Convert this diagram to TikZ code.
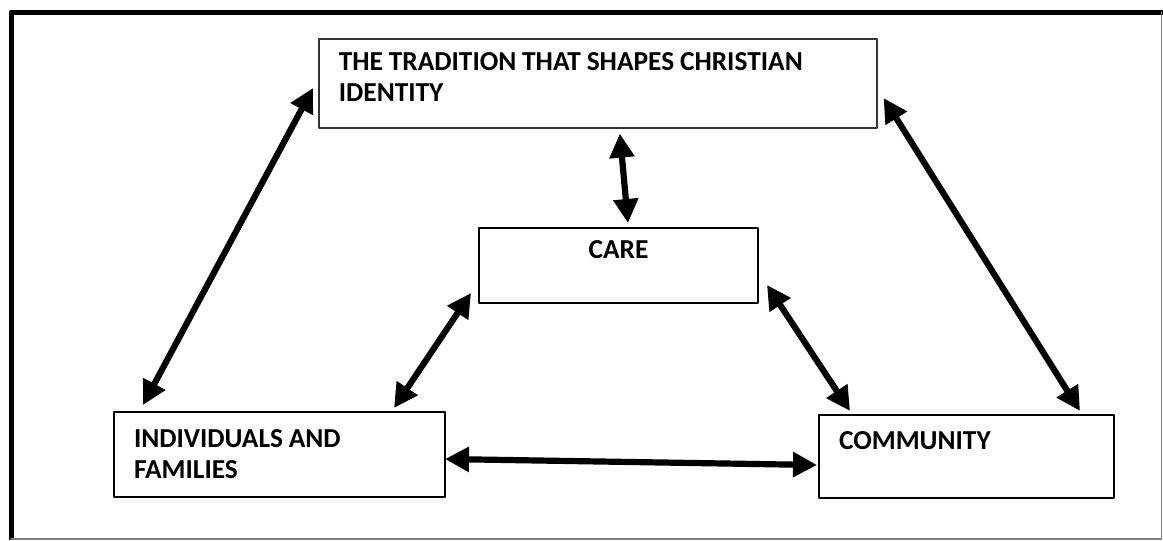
\documentclass[tikz,border=0pt]{standalone}
\usepackage{fontspec}
\setmainfont{Carlito}
\usetikzlibrary{arrows.meta}

\begin{document}
\begin{tikzpicture}[line cap=round,line join=round,>={Triangle[length=12pt,width=12pt]},x=0.5pt,y=-0.5pt,
	box/.style={draw,line width=1pt,anchor=north west,inner sep=0pt,font=\fontsize{13.7}{15.5}\selectfont\bfseries,execute at begin node={\spaceskip=0.21em\relax}},
	link/.style={<->,line width=3.1pt,line cap=butt}]
		\useasboundingbox (0,0) rectangle (1163,541);
		% frame
		\draw [line width=2.5pt,line cap=butt] (11,540)-- (11,12)-- (1163,12);
		\draw [line width=0.8pt,color=gray] (1161.5,12)-- (1161.5,539)-- (11,539);
		% boxes
		\node [box,line width=0.8pt,draw=black!80,minimum width=279pt,minimum height=44.5pt,text width=259pt,align=left] (trad) at (318,38) {THE TRADITION THAT SHAPES CHRISTIAN\\IDENTITY\\[-9.5pt]\mbox{}};
		\node [box,minimum width=139.5pt,minimum height=37.5pt,align=center] (care) at (478,227) {CARE\\\mbox{}};
		\node [box,minimum width=165.5pt,minimum height=42.5pt,text width=145.5pt,align=left] (ind) at (113,411) {INDIVIDUALS AND\\FAMILIES};
		\node [box,minimum width=147.5pt,minimum height=41.5pt,text width=127.5pt,align=left] (com) at (818,414) {COMMUNITY\\\mbox{}};
		% arrows
		\draw [link] ([shift={(30,-6)}]ind.north west)-- ([shift={(-5,50)}]trad.north west);
		\draw [link] ([shift={(6,60)}]trad.north east)-- ([shift={(-35,-3)}]com.north east);
		\draw [link] ([shift={(22,5)}]trad.south)-- ([shift={(9.5,-4)}]care.north);
		\draw [link] ([shift={(-7,-11)}]care.south west)-- ([shift={(-52,-3)}]ind.north east);
		\draw [link] ([shift={(8,-19)}]care.south east)-- ([shift={(32,-3)}]com.north west);
		\draw [link] ([shift={(-1,4.5)}]ind.east)-- ([shift={(-1,8.5)}]com.west);
	\end{tikzpicture}
\end{document}
